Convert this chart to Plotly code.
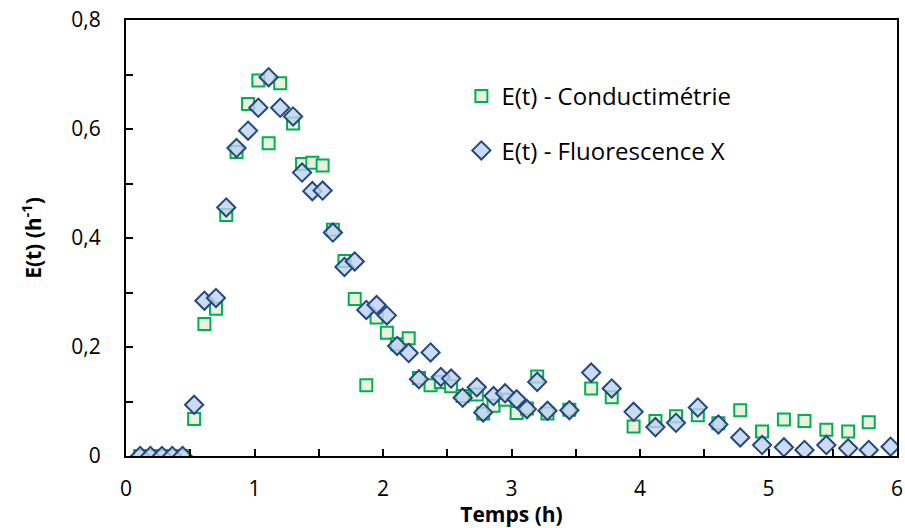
import plotly.graph_objects as go

# temps (h)
temps = [
    0.11, 0.19, 0.28, 0.36, 0.44, 0.53, 0.61, 0.70, 0.78, 0.86,
    0.95, 1.03, 1.11, 1.20, 1.30, 1.37, 1.45, 1.53, 1.61, 1.70,
    1.78, 1.87, 1.95, 2.03, 2.11, 2.20, 2.28, 2.37, 2.45, 2.53,
    2.62, 2.73, 2.78, 2.86, 2.95, 3.04, 3.12, 3.20, 3.28, 3.45,
    3.62, 3.78, 3.95, 4.12, 4.28, 4.45, 4.61, 4.78, 4.95, 5.12,
    5.28, 5.45, 5.62, 5.78, 5.95,
]

e_conductimetrie = [
    0, 0, 0, 0, 0, 0.068, 0.242, 0.270, 0.442, 0.558,
    0.646, 0.689, 0.574, 0.684, 0.610, 0.536, 0.538, 0.533, 0.415, 0.358,
    0.288, 0.130, 0.254, 0.226, 0.205, 0.216, 0.143, 0.130, 0.136, 0.128,
    0.110, 0.113, 0.078, 0.092, 0.103, 0.079, 0.087, 0.146, 0.078, 0.085,
    0.124, 0.108, 0.054, 0.064, 0.073, 0.075, 0.060, 0.084, 0.045, 0.067,
    0.064, 0.048, 0.045, 0.062,
]

e_fluorescence = [
    0, 0, 0, 0, 0, 0.094, 0.285, 0.290, 0.456, 0.565,
    0.597, 0.639, 0.695, 0.639, 0.623, 0.520, 0.486, 0.487, 0.410, 0.347,
    0.357, 0.268, 0.277, 0.258, 0.202, 0.189, 0.141, 0.190, 0.145, 0.142,
    0.107, 0.126, 0.080, 0.110, 0.115, 0.104, 0.086, 0.136, 0.083, 0.084,
    0.153, 0.124, 0.081, 0.053, 0.061, 0.089, 0.058, 0.034, 0.020, 0.016,
    0.011, 0.020, 0.014, 0.011, 0.017,
]

FONT = "'Open Sans', sans-serif"


def main():
    trace_cond = go.Scatter(
        x=temps[: len(e_conductimetrie)],
        y=e_conductimetrie,
        mode="markers",
        name="E(t) - Conductimétrie",
        marker={
            "symbol": "square",
            "size": 12,
            "color": "#EBF1DE",
            "line": {"color": "#00B050", "width": 2},
        },
        legend="legend",
    )

    trace_fluo = go.Scatter(
        x=temps,
        y=e_fluorescence,
        mode="markers",
        name="E(t) - Fluorescence X",
        marker={
            "symbol": "diamond",
            "size": 14,
            "color": "rgba(190,210,238,0.8)",
            "line": {"color": "#24477F", "width": 2},
        },
        legend="legend2",
    )

    axis_common = {
        "showgrid": False,
        "zeroline": False,
        "showline": True,
        "linecolor": "black",
        "linewidth": 2,
        "mirror": True,
        "automargin": False,
        "ticks": "inside",
        "ticklen": 7,
        "tickwidth": 2,
        "tickcolor": "black",
        "tickfont": {"size": 21, "color": "black", "family": FONT},
    }

    layout = go.Layout(
        width=905,
        height=528,
        margin={"l": 126, "r": 8, "t": 20, "b": 72},
        paper_bgcolor="white",
        plot_bgcolor="white",
        separators=", ",
        font={"family": FONT, "color": "black"},
        xaxis={
            **axis_common,
            "range": [0, 6],
            "tickvals": [0, 1, 2, 3, 4, 5, 6],
            "minor": {"dtick": 0.5, "ticks": "inside", "ticklen": 7,
                      "tickwidth": 2, "tickcolor": "black"},
            "ticklabelstandoff": 13,
            "title": {"text": "<b>Temps (h)</b>", "font": {"size": 21},
                      "standoff": 2},
        },
        yaxis={
            **axis_common,
            "range": [0, 0.8],
            "tickvals": [0, 0.2, 0.4, 0.6, 0.8],
            "minor": {"dtick": 0.1, "ticks": "inside", "ticklen": 7,
                      "tickwidth": 2, "tickcolor": "black"},
            "ticklabelstandoff": 19,
            "title": {"text": "<b>E(t) (h<sup>-1</sup>)</b>", "font": {"size": 21},
                      "standoff": 24},
        },
        legend={
            "x": 0.435, "y": 0.825, "xanchor": "left", "yanchor": "middle",
            "font": {"size": 24, "family": FONT},
            "bgcolor": "rgba(0,0,0,0)",
            "itemwidth": 30,
        },
        legend2={
            "x": 0.435, "y": 0.70, "xanchor": "left", "yanchor": "middle",
            "font": {"size": 24, "family": FONT},
            "bgcolor": "rgba(0,0,0,0)",
            "itemwidth": 30,
        },
        showlegend=True,
    )

    fig = go.Figure(data=[trace_cond, trace_fluo], layout=layout)
    fig.write_html(
        "out.html",
        config={"displayModeBar": False},
        post_script="document.body.style.margin='0';document.body.style.overflow='hidden';",
    )


if __name__ == "__main__":
    main()
